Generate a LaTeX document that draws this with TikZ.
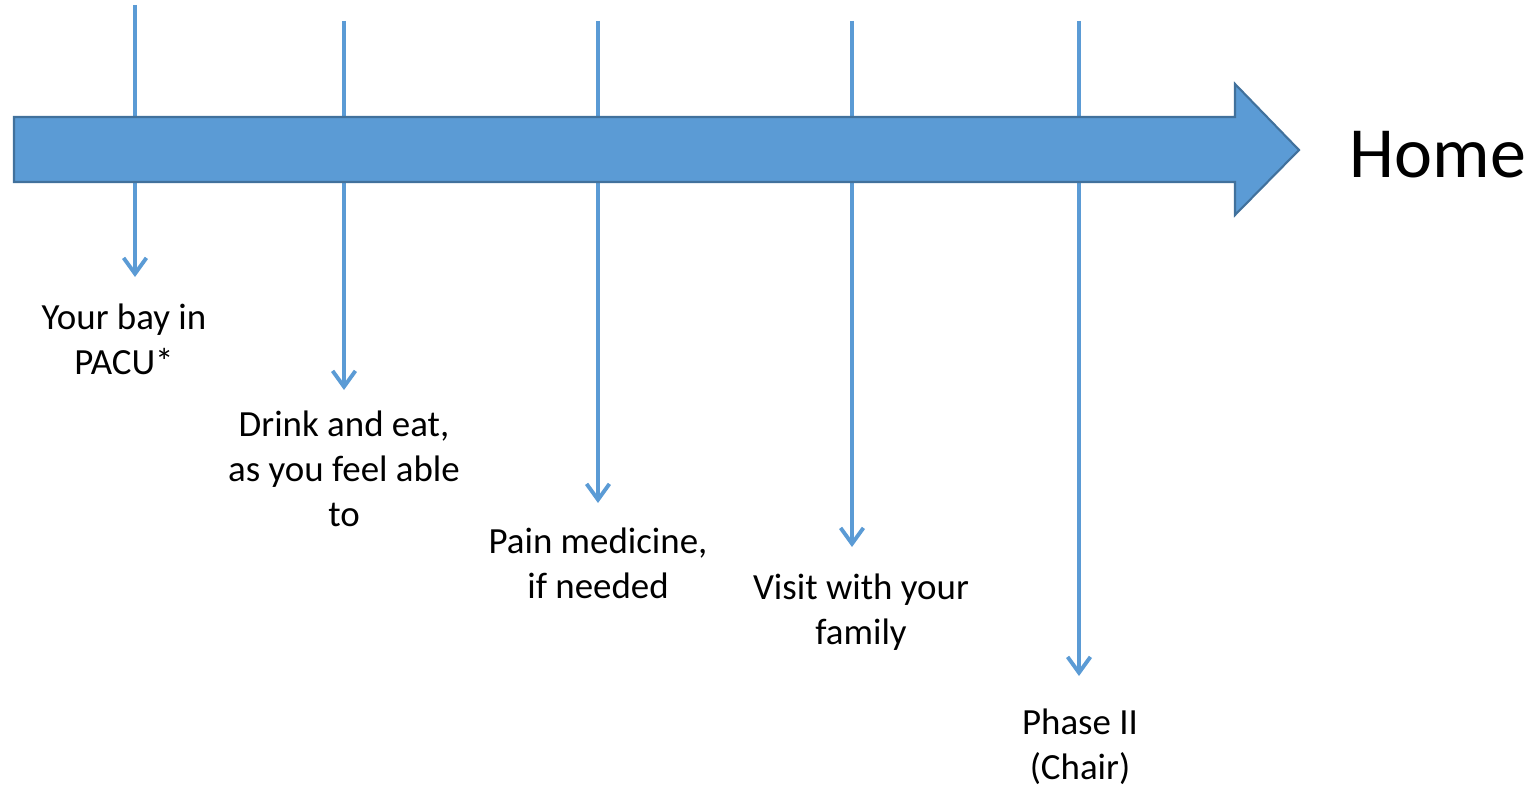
\documentclass[tikz,border=0pt]{standalone}
\usepackage{fontspec}
\setmainfont{Carlito}
\usetikzlibrary{arrows.meta}
\definecolor{stepblue}{HTML}{5B9BD5}
\definecolor{stepedge}{HTML}{41719C}
\begin{document}
\begin{tikzpicture}[x=0.02cm,y=-0.02cm,
  tick/.style={draw=stepblue,line width=2.2pt,-{Straight Barb[length=9pt,width=13pt,line width=2.2pt]}},
  label/.style={align=center,inner sep=0pt,font=\fontsize{21}{25.5}\selectfont}]
\useasboundingbox (0,0) rectangle (1537,787);

% start of each line
\coordinate (t1) at (135,5);
\coordinate (t2) at (344,21);
\coordinate (t3) at (598,21);
\coordinate (t4) at (852,21);
\coordinate (t5) at (1079,21);
% tips
\coordinate (e1) at (135,277);
\coordinate (e2) at (344,390);
\coordinate (e3) at (598,503);
\coordinate (e4) at (852,547);
\coordinate (e5) at (1079,676);

\draw[tick] (t1) -- (e1);
\draw[tick] (t2) -- (e2);
\draw[tick] (t3) -- (e3);
\draw[tick] (t4) -- (e4);
\draw[tick] (t5) -- (e5);

% the time arrow
\fill[fill=stepblue,draw=stepedge,line width=1.2pt,line join=miter]
  (14,117) -- (1235,117) -- (1235,84) -- (1299,150) -- (1235,215)
  -- (1235,182) -- (14,182) -- cycle;

\node[label] (bay) at (124,339) {Your bay in\\PACU*};
\node[label] (drink) at (344,469) {Drink and eat,\\as you feel able\\to};
\node[label] (pain) at (598,563) {Pain medicine,\\if needed};
\node[label] (visit) at (861,612) {Visit with your\\family};
\node[label] (phase) at (1080,747) {Phase II\\(Chair)};
\node[font=\fontsize{41}{49}\selectfont,inner sep=0pt] (home) at (1438,155) {Home};

\end{tikzpicture}
\end{document}
